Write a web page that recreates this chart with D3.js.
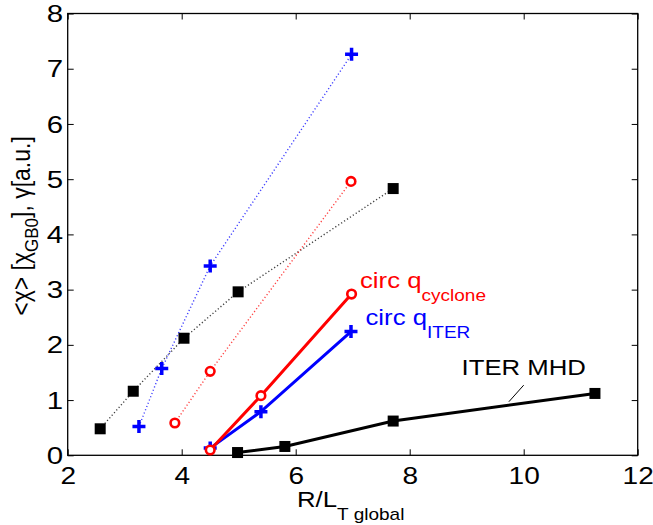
<!DOCTYPE html>
<html>
<head>
<meta charset="utf-8">
<script src="https://cdn.jsdelivr.net/npm/d3@7"></script>
<style>
  body { margin: 0; background: #fff; }
  svg { font-family: "Liberation Sans", Arial, Helvetica, sans-serif; }
</style>
</head>
<body>
<svg width="653" height="525"></svg>
<script>
// dotted series
let dotBlackX = [2.57, 3.15, 4.04, 4.99, 7.71],
    dotBlackY = [0.48, 1.16, 2.12, 2.96, 4.83];
let dotBlueX = [3.25, 3.65, 4.5, 6.98],
    dotBlueY = [0.52, 1.57, 3.43, 7.26];
let dotRedX = [3.88, 4.5, 6.97],
    dotRedY = [0.585, 1.52, 4.96];

// solid series
let blueX = [4.5, 5.39, 6.97],
    blueY = [0.13, 0.79, 2.24];
let redX = [4.5, 5.39, 6.98],
    redY = [0.096, 1.08, 2.92];
let mhdX = [4.98, 5.81, 7.71, 11.25],
    mhdY = [0.05, 0.16, 0.62, 1.12];

let xTicks = [2, 4, 6, 8, 10, 12],
    yTicks = [0, 1, 2, 3, 4, 5, 6, 7, 8];

let width = 653,
    height = 525,
    margin = {top: 13.5, right: 15.3, bottom: 69.7, left: 67.7};

let stretch = 1.12;   // the figure text is a bit wide

let svg = d3.select('svg')
    .attr('width', width)
    .attr('height', height);

let x = d3.scaleLinear().domain([2, 12]).range([margin.left, width - margin.right]);
let y = d3.scaleLinear().domain([0, 8]).range([height - margin.bottom, margin.top]);

// axes, MATLAB style: ticks inward on all four sides
function styleAxis(g) {
    g.selectAll('.domain').remove();
    g.selectAll('.tick line').attr('stroke', '#000').attr('stroke-width', 1);
    g.selectAll('.tick text').attr('fill', '#000').attr('font-size', 23);
}

svg.append('g')
    .attr('transform', `translate(0,${y(0)})`)
    .call(d3.axisBottom(x).tickValues(xTicks).tickSize(-6))
    .call(styleAxis)
    .call(g => g.selectAll('.tick text')
        .attr('y', null).attr('dy', null)
        .attr('transform', 'translate(0,28.5) scale(1.22,1)'));

svg.append('g')
    .attr('transform', `translate(0,${y(8)})`)
    .call(d3.axisTop(x).tickValues(xTicks).tickSize(-6).tickFormat(''))
    .call(styleAxis);

svg.append('g')
    .attr('transform', `translate(${x(2)},0)`)
    .call(d3.axisLeft(y).tickValues(yTicks).tickSize(-6))
    .call(styleAxis)
    .call(g => g.selectAll('.tick text')
        .attr('x', null).attr('dy', '0.35em')
        .attr('transform', 'translate(-4.5,0) scale(1.28,1)'));

svg.append('g')
    .attr('transform', `translate(${x(12)},0)`)
    .call(d3.axisRight(y).tickValues(yTicks).tickSize(-6).tickFormat(''))
    .call(styleAxis);

svg.append('rect')
    .attr('x', x(2)).attr('y', y(8))
    .attr('width', x(12) - x(2)).attr('height', y(0) - y(8))
    .attr('fill', 'none').attr('stroke', '#000').attr('stroke-width', 1.3);

let line = d3.line().x(d => x(d[0])).y(d => y(d[1]));

function series(xs, ys, color, dotted) {
    let pts = d3.zip(xs, ys);
    svg.append('path')
        .datum(pts)
        .attr('d', line)
        .attr('fill', 'none')
        .attr('stroke', color)
        .attr('stroke-width', dotted ? 1.4 : 3)
        .attr('stroke-dasharray', dotted ? '1.2,2.3' : null)
        .attr('opacity', dotted ? 0.75 : 1);
    return pts;
}

function squares(pts) {
    svg.append('g').selectAll('rect')
        .data(pts)
        .enter().append('rect')
        .attr('x', d => x(d[0]) - 5.5)
        .attr('y', d => y(d[1]) - 5.5)
        .attr('width', 11).attr('height', 11)
        .attr('fill', '#000');
}

function pluses(pts) {
    svg.append('g').selectAll('path')
        .data(pts)
        .enter().append('path')
        .attr('d', d => `M${x(d[0]) - 6.5},${y(d[1])}h13M${x(d[0])},${y(d[1]) - 6.5}v13`)
        .attr('stroke', '#0000ff')
        .attr('stroke-width', 3.5);
}

function circles(pts) {
    svg.append('g').selectAll('circle')
        .data(pts)
        .enter().append('circle')
        .attr('cx', d => x(d[0]))
        .attr('cy', d => y(d[1]))
        .attr('r', 4.3)
        .attr('fill', '#fff')
        .attr('stroke', '#ff0000')
        .attr('stroke-width', 2.6);
}

squares(series(dotBlackX, dotBlackY, '#000', true));
pluses(series(dotBlueX, dotBlueY, '#0000ff', true));
circles(series(dotRedX, dotRedY, '#ff0000', true));

squares(series(mhdX, mhdY, '#000', false));
pluses(series(blueX, blueY, '#0000ff', false));
circles(series(redX, redY, '#ff0000', false));

// labels on the curves
function subLabel(px, py, main, sub, color, size, subSize) {
    let t = svg.append('text')
        .attr('transform', `translate(${px},${py}) scale(${stretch},1)`)
        .attr('fill', color)
        .attr('font-size', size);
    t.append('tspan').text(main);
    if (sub) t.append('tspan').attr('dy', 13).attr('font-size', subSize).text(sub);
    return t;
}

subLabel(360, 288, 'circ q', 'cyclone', '#ff0000', 23, 17);
subLabel(365.5, 325, 'circ q', 'ITER', '#0000ff', 23, 17);
subLabel(461.5, 375, 'ITER MHD', null, '#000', 23);

svg.append('line')
    .attr('x1', x(9.74)).attr('y1', y(0.97))
    .attr('x2', x(10.0)).attr('y2', y(1.27))
    .attr('stroke', '#000').attr('stroke-width', 1);

// axis titles
subLabel(297, 507, 'R/L', 'T global', '#000', 23, 17);

let yl = svg.append('text')
    .attr('transform', 'translate(29.5,226) rotate(-90) scale(1,1.12)')
    .attr('text-anchor', 'middle')
    .attr('font-size', 23).attr('fill', '#000');
yl.append('tspan').text('<χ> [χ');
yl.append('tspan').attr('dy', 8).attr('font-size', 17).text('GB0');
yl.append('tspan').attr('dy', -8).text('], γ[a.u.]');
</script>
</body>
</html>
